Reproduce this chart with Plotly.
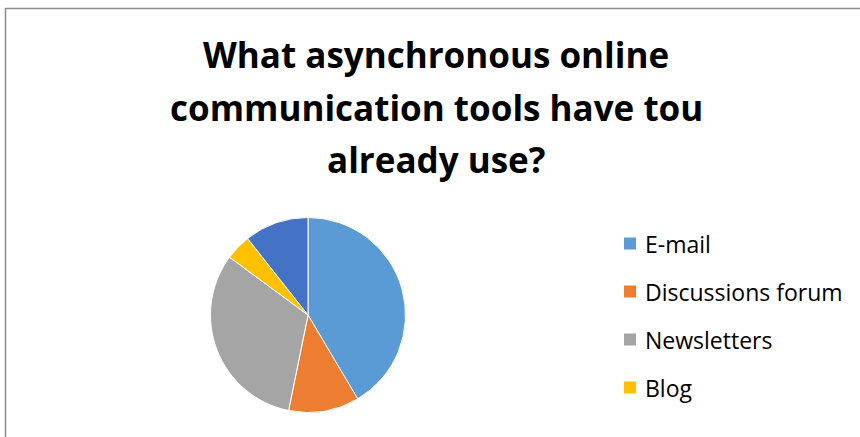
import plotly.graph_objects as go

# Survey answers: asynchronous online communication tools already used
labels = ["E-mail", "Discussions forum", "Newsletters", "Blog", "Other"]
counts = [39, 11, 30, 4, 10]
colors = ["#5B9BD5", "#ED7D31", "#A5A5A5", "#FFC000", "#4472C4"]

title_lines = ["What asynchronous online", "communication tools have tou", "already use?"]
legend_labels = labels[:4]

W, H = 860, 437


def px_x(x):
    return x / W


def px_y(y):
    return 1 - y / H


fig = go.Figure()

# pie centred at (308, 315) px with a radius of about 98 px
cx, cy, r = 308, 315, 97.5
fig.add_trace(go.Pie(
    labels=labels,
    values=counts,
    sort=False,
    direction="clockwise",
    rotation=0,
    marker=dict(colors=colors, line=dict(color="white", width=1)),
    textinfo="none",
    hoverinfo="label+value+percent",
    showlegend=False,
    domain=dict(x=[px_x(cx - r), px_x(cx + r)], y=[px_y(cy + r), px_y(cy - r)]),
))

shapes = [
    # chart area frame
    dict(type="rect", xref="paper", yref="paper",
         x0=px_x(5.5), x1=px_x(880), y0=px_y(460), y1=px_y(8.5),
         line=dict(color="#8c8c8c", width=1.5), fillcolor="rgba(0,0,0,0)"),
]
annotations = []

# title, one annotation per line
title_y = [54, 107, 159]
for text, y in zip(title_lines, title_y):
    annotations.append(dict(
        text=text, xref="paper", yref="paper", x=px_x(436), y=px_y(y),
        xanchor="center", yanchor="middle", showarrow=False,
        font=dict(family="Open Sans", size=35, color="#000000", weight="bold"),
    ))

# legend: coloured square + label
row_y = [243.5, 291.5, 339.5, 387.5]
for lab, col, y in zip(legend_labels, colors, row_y):
    shapes.append(dict(type="rect", xref="paper", yref="paper",
                       x0=px_x(624), x1=px_x(636), y0=px_y(y + 6), y1=px_y(y - 6),
                       line=dict(width=0), fillcolor=col))
    annotations.append(dict(
        text=lab, xref="paper", yref="paper", x=px_x(643), y=px_y(y),
        xanchor="left", yanchor="middle", showarrow=False,
        font=dict(family="Open Sans", size=23, color="#000000"),
    ))

fig.update_layout(
    width=W, height=H,
    margin=dict(l=0, r=0, t=0, b=0),
    paper_bgcolor="white",
    plot_bgcolor="white",
    shapes=shapes,
    annotations=annotations,
)

fig.write_html("out.html")
